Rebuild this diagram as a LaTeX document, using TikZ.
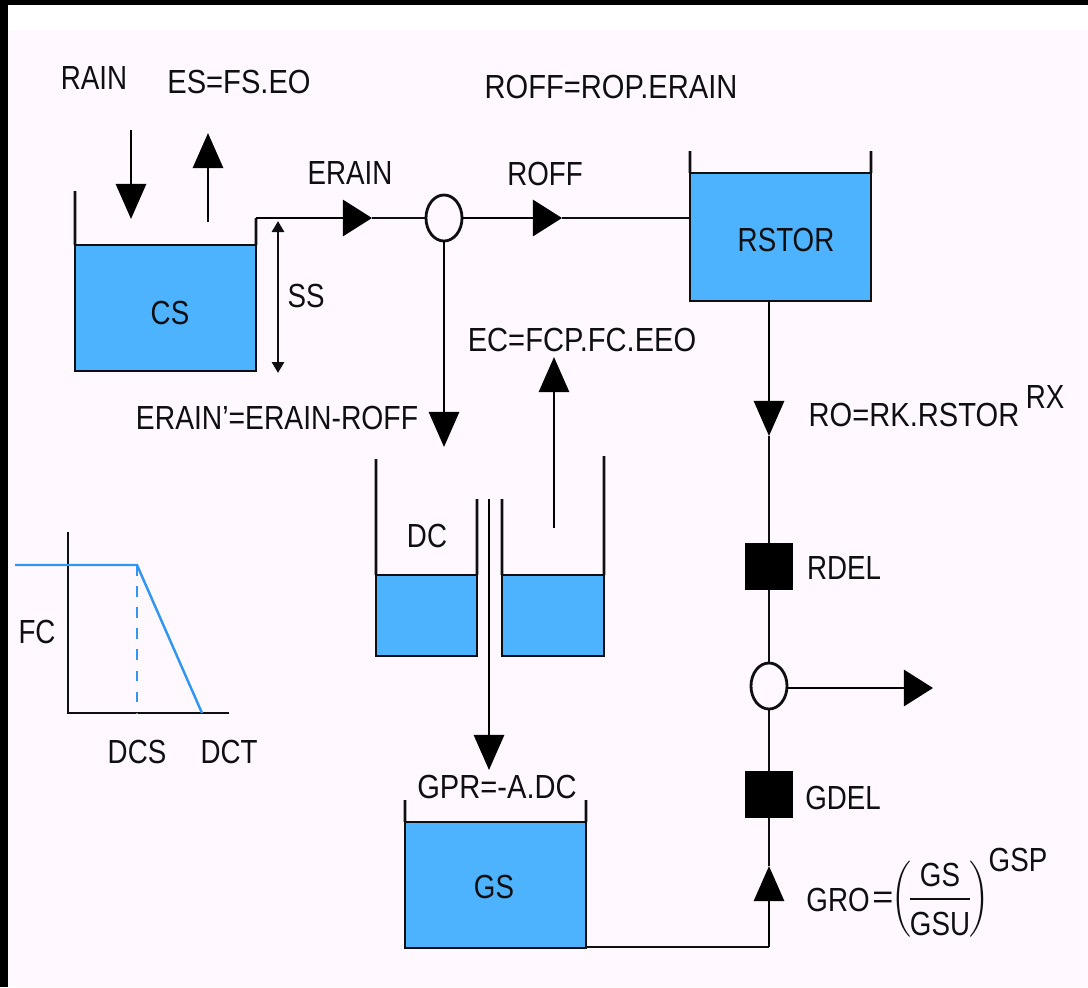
\documentclass[tikz,border=0pt]{standalone}
\usepackage{amsmath}
\usepackage{fontspec}
\setmainfont{Liberation Sans}
\usepackage{tikz}
\usetikzlibrary{shapes.geometric, arrows.meta, positioning}
\definecolor{mywater}{RGB}{77,179,255}
\definecolor{mypaper}{RGB}{255,249,255}
\definecolor{myline}{RGB}{15,15,18}
\definecolor{mycurve}{RGB}{50,150,240}
\tikzset{
  tank/.style={rectangle, draw=myline, fill=mywater, inner sep=0pt, outer sep=0pt, line width=0.8pt},
  delay/.style={rectangle, fill=black, minimum size=0.47cm, inner sep=0pt, outer sep=0pt},
  junc/.style={ellipse, draw=myline, fill=mypaper, minimum width=0.36cm, minimum height=0.46cm, inner sep=0pt, outer sep=0pt, line width=0.8pt},
  lbl/.style={font=\fontsize{9.5}{11}\selectfont, text=myline, inner sep=0pt, xscale=0.83},
  widelbl/.style={lbl, xscale=1.05},
  pipe/.style={line width=0.8pt, color=myline},
  flow/.style={-{Triangle[length=0.29cm,width=0.36cm]}, line width=0.8pt, color=black},
  drop/.style={-{Triangle[length=0.35cm,width=0.30cm]}, line width=0.8pt, color=black},
  measure/.style={{Triangle[length=0.11cm,width=0.12cm]}-{Triangle[length=0.11cm,width=0.12cm]}, line width=0.8pt, color=myline},
  curve/.style={line width=0.7pt, color=mycurve}
}
\begin{document}
\begin{tikzpicture}[x=0.01cm, y=-0.01cm]
  % Paper
  \useasboundingbox (0,0) rectangle (1088,987);
  \fill[black] (0,0) rectangle (1088,987);
  \fill[white] (8,5) rectangle (1088,987);
  \fill[mypaper] (8,30) rectangle (1088,987);

  % Canopy store
  \node[tank, minimum width=1.81cm, minimum height=1.26cm] (cs) at (165.5,308) {};
  \node[lbl] (cslbl) at (170,313) {CS};
  \coordinate (cswall) at (75,191);
  \coordinate (csout) at (256,218);
  \draw[pipe] (cs.north west) -- (cswall);
  \node[lbl] (rain) at (94,78) {RAIN};
  \node[widelbl] (es) at (239,82) {ES=FS.EO};
  \coordinate (rainfrom) at (131,130);
  \coordinate (rainto) at (131,219);
  \coordinate (esfrom) at (208,222);
  \coordinate (esto) at (208,133);
  \draw[drop] (rainfrom) -- (rainto);
  \draw[drop] (esfrom) -- (esto);

  % Spill height
  \coordinate (sstop) at (278,221);
  \coordinate (ssbot) at (278,373);
  \draw[measure] (sstop) -- (ssbot);
  \node[lbl] (ss) at (306,296) {SS};

  % Overflow to the split
  \node[junc] (split) at (444,218) {};
  \coordinate (ertip) at (372,218);
  \node[lbl] (erain) at (350,173) {ERAIN};
  \draw[pipe] (cs.north east) -- (csout);
  \draw[flow] (csout) -- (ertip);
  \draw[pipe] (ertip) -- (split);

  % Runoff store
  \node[tank, minimum width=1.81cm, minimum height=1.28cm] (rstor) at (780.5,237) {};
  \node[lbl] (rstorlbl) at (786,240) {RSTOR};
  \coordinate (rwalll) at (690,151);
  \coordinate (rwallr) at (871,151);
  \draw[pipe] (rstor.north west) -- (rwalll);
  \draw[pipe] (rstor.north east) -- (rwallr);
  \coordinate (rofftip) at (562,218);
  \coordinate (rstorin) at (690,218);
  \draw[flow] (split) -- (rofftip);
  \draw[pipe] (rofftip) -- (rstorin);
  \node[lbl] (roff) at (545,174) {ROFF};
  \node[widelbl] (roffeq) at (611,87) {ROFF=ROP.ERAIN};

  % Depression store
  \node[tank, minimum width=1.01cm, minimum height=0.81cm] (dcl) at (426.5,615.5) {};
  \node[tank, minimum width=1.02cm, minimum height=0.81cm] (dcr) at (553,615.5) {};
  \node[lbl] (dc) at (427,536) {DC};
  \coordinate (dcw1) at (376,459);
  \coordinate (dcw2) at (477,499);
  \coordinate (dcw3) at (502,499);
  \coordinate (dcw4) at (604,456);
  \draw[pipe] (dcl.north west) -- (dcw1);
  \draw[pipe] (dcl.north east) -- (dcw2);
  \draw[pipe] (dcr.north west) -- (dcw3);
  \draw[pipe] (dcr.north east) -- (dcw4);
  \coordinate (dcin) at (444,447);
  \draw[drop] (split) -- (dcin);
  \node[lbl, xscale=1.02] (erainp) at (277,418) {ERAIN'=ERAIN-ROFF};
  \coordinate (ecfrom) at (554,528);
  \coordinate (ecto) at (554,357);
  \draw[drop] (ecfrom) -- (ecto);
  \node[widelbl] (ec) at (582,340) {EC=FCP.FC.EEO};

  % Ground store
  \node[tank, minimum width=1.81cm, minimum height=1.26cm] (gs) at (495.5,885) {};
  \node[lbl] (gslbl) at (494,887) {GS};
  \coordinate (gsw1) at (405,800);
  \coordinate (gsw2) at (586,800);
  \draw[pipe] (gs.north west) -- (gsw1);
  \draw[pipe] (gs.north east) -- (gsw2);
  \coordinate (perctop) at (489,499);
  \coordinate (percto) at (489,770);
  \draw[drop] (perctop) -- (percto);
  \node[widelbl] (gpr) at (497,787) {GPR=-A.DC};

  % Routing
  \node[delay] (rdel) at (769,566.5) {};
  \node[delay] (gdel) at (769,794) {};
  \node[junc] (out) at (769,686) {};
  \coordinate (rotop) at (769,301);
  \coordinate (rotip) at (769,436);
  \draw[drop] (rotop) -- (rotip);
  \draw[pipe] (rotip) -- (rdel);
  \draw[pipe] (rdel) -- (out);
  \draw[pipe] (out) -- (gdel);
  \coordinate (outto) at (933,688);
  \draw[flow] (out.east |- outto) -- (outto);
  \coordinate (gscorner) at (769,947);
  \coordinate (grotip) at (769,866);
  \coordinate (gsout) at (586,947);
  \draw[pipe] (gsout) -- (gscorner);
  \draw[drop] (gscorner) -- (grotip);
  \draw[pipe] (grotip) -- (gdel);
  \node[widelbl] (ro) at (914,415) {RO=RK.RSTOR};
  \node[lbl] (rx) at (1045,397) {RX};
  \node[lbl] (rdellbl) at (844,568) {RDEL};
  \node[lbl] (gdellbl) at (843,798) {GDEL};
  \node[lbl] (gro) at (838,900) {GRO};
  \node[lbl, xscale=1.3] (groeq) at (883,900) {=};
  \node[lbl] (grofrac) at (940,899) {$\left(\!\dfrac{\rule[-2pt]{0pt}{9pt}\text{GS}}{\rule{0pt}{9pt}\text{GSU}}\!\right)$};
  \node[lbl] (gsp) at (1018,860) {GSP};

  % Storage function
  \coordinate (axtop) at (68,532);
  \coordinate (axorg) at (68,713);
  \coordinate (axend) at (229,713);
  \draw[pipe] (axtop) -- (axorg) -- (axend);
  \coordinate (fcl) at (15,565);
  \coordinate (fcm) at (137,565);
  \coordinate (fcf) at (137,713);
  \coordinate (fce) at (202,713);
  \draw[curve] (fcl) -- (fcm) -- (fce);
  \draw[curve, dashed] (fcm) -- (fcf);
  \node[lbl] (fc) at (37,632) {FC};
  \node[lbl] (dcs) at (137,752) {DCS};
  \node[lbl] (dct) at (229,752) {DCT};
\end{tikzpicture}
\end{document}
